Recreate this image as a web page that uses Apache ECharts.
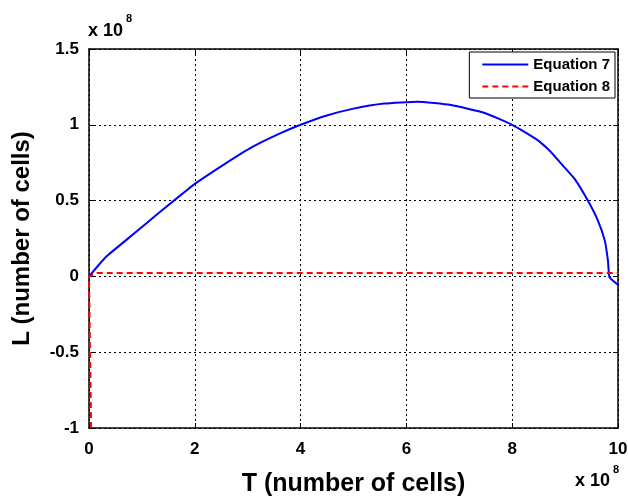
<!DOCTYPE html>
<html>
<head>
<meta charset="utf-8">
<script src="https://cdn.jsdelivr.net/npm/echarts@6/dist/echarts.min.js"></script>
<style>
html,body{margin:0;padding:0;background:#fff;}
#c{width:628px;height:497px;}
</style>
</head>
<body>
<div id="c"></div>
<script>
// values in units of 10^8 cells
var T7 = [0, 0.31, 0.69, 1.07, 1.45, 1.83, 2.0, 2.57, 3.08, 3.59, 4.0, 4.48, 4.98, 5.58, 6.21, 6.84, 7.48, 8.0, 8.44, 8.7, 8.93, 9.18, 9.43, 9.62, 9.75, 9.81, 9.84, 10.0];
var L7 = [0, 0.125, 0.236, 0.346, 0.456, 0.563, 0.61, 0.742, 0.852, 0.94, 1.0, 1.06, 1.105, 1.14, 1.152, 1.13, 1.078, 1.0, 0.909, 0.832, 0.742, 0.643, 0.5, 0.368, 0.236, 0.104, -0.007, -0.055];
var T8 = [0.04, 0.0, 0.15, 10.0];
var L8 = [-1.0, 0.0, 0.022, 0.022];
var seriesNames = ['Equation 7', 'Equation 8'];
var xTicks = [0, 2, 4, 6, 8, 10];
var yTicks = [-1, -0.5, 0, 0.5, 1, 1.5];

function pairs(a, b) { return a.map(function (v, i) { return [v, b[i]]; }); }

var FONT = '"Liberation Sans", Arial, Helvetica, sans-serif';
var chart = echarts.init(document.getElementById('c'));
var tickStyle = { show: true, inside: true, length: 5, lineStyle: { color: '#000', width: 1 } };
var gridLine = { show: true, lineStyle: { color: '#000', type: [2, 3], width: 1 } };
var axLine = { show: true, onZero: false, lineStyle: { color: '#000', width: 1.5 } };
var bold = function (size) { return { fontFamily: FONT, fontWeight: 'bold', fontSize: size, fill: '#000' }; };

chart.setOption({
  animation: false,
  backgroundColor: '#fff',
  grid: { left: 89, right: 10, top: 49, bottom: 69, containLabel: false, outerBoundsMode: 'none' },
  xAxis: [{
    type: 'value', min: xTicks[0], max: xTicks[xTicks.length - 1], interval: 2,
    axisLine: axLine, axisTick: tickStyle, splitLine: gridLine,
    axisLabel: { color: '#000', fontFamily: FONT, fontWeight: 'bold', fontSize: 17, margin: 13 },
    name: 'T (number of cells)', nameLocation: 'middle', nameGap: 44,
    nameTextStyle: { color: '#000', fontFamily: FONT, fontWeight: 'bold', fontSize: 25 }
  }, {
    type: 'value', position: 'top', min: xTicks[0], max: xTicks[xTicks.length - 1], interval: 2,
    axisLine: axLine, axisTick: tickStyle, splitLine: { show: false }, axisLabel: { show: false }
  }],
  yAxis: [{
    type: 'value', min: yTicks[0], max: yTicks[yTicks.length - 1], interval: 0.5,
    axisLine: axLine, axisTick: tickStyle, splitLine: gridLine,
    axisLabel: { color: '#000', fontFamily: FONT, fontWeight: 'bold', fontSize: 17, margin: 10 },
    name: 'L (number of cells)', nameLocation: 'middle', nameGap: 55, nameRotate: 90,
    nameTextStyle: { color: '#000', fontFamily: FONT, fontWeight: 'bold', fontSize: 24 }
  }, {
    type: 'value', position: 'right', min: yTicks[0], max: yTicks[yTicks.length - 1], interval: 0.5,
    axisLine: axLine, axisTick: tickStyle, splitLine: { show: false }, axisLabel: { show: false }
  }],
  legend: {
    orient: 'vertical', right: 13, top: 52,
    data: seriesNames,
    backgroundColor: '#fff', borderColor: '#000', borderWidth: 1,
    padding: [5, 5, 4, 12], itemGap: 7, itemWidth: 46, itemHeight: 14,
    itemStyle: { opacity: 0 },
    textStyle: { color: '#000', fontFamily: FONT, fontWeight: 'bold', fontSize: 15 }
  },
  graphic: [
    { type: 'text', x: 88, y: 31, style: Object.assign({ text: 'x 10', verticalAlign: 'middle' }, bold(18)) },
    { type: 'text', x: 126, y: 19, style: Object.assign({ text: '8', verticalAlign: 'middle' }, bold(11)) },
    { type: 'text', x: 575, y: 481, style: Object.assign({ text: 'x 10', verticalAlign: 'middle' }, bold(18)) },
    { type: 'text', x: 613, y: 470, style: Object.assign({ text: '8', verticalAlign: 'middle' }, bold(11)) }
  ],
  series: [{
    name: seriesNames[0], type: 'line', data: pairs(T7, L7), showSymbol: false, symbol: 'none',
    smooth: 0.15, clip: true,
    lineStyle: { color: '#0000ff', width: 2 }, itemStyle: { color: '#0000ff' }
  }, {
    name: seriesNames[1], type: 'line', data: pairs(T8, L8), showSymbol: false, symbol: 'none',
    clip: true,
    lineStyle: { color: '#ff0000', width: 2, type: [6, 4] }, itemStyle: { color: '#ff0000' }
  }]
});
</script>
</body>
</html>
